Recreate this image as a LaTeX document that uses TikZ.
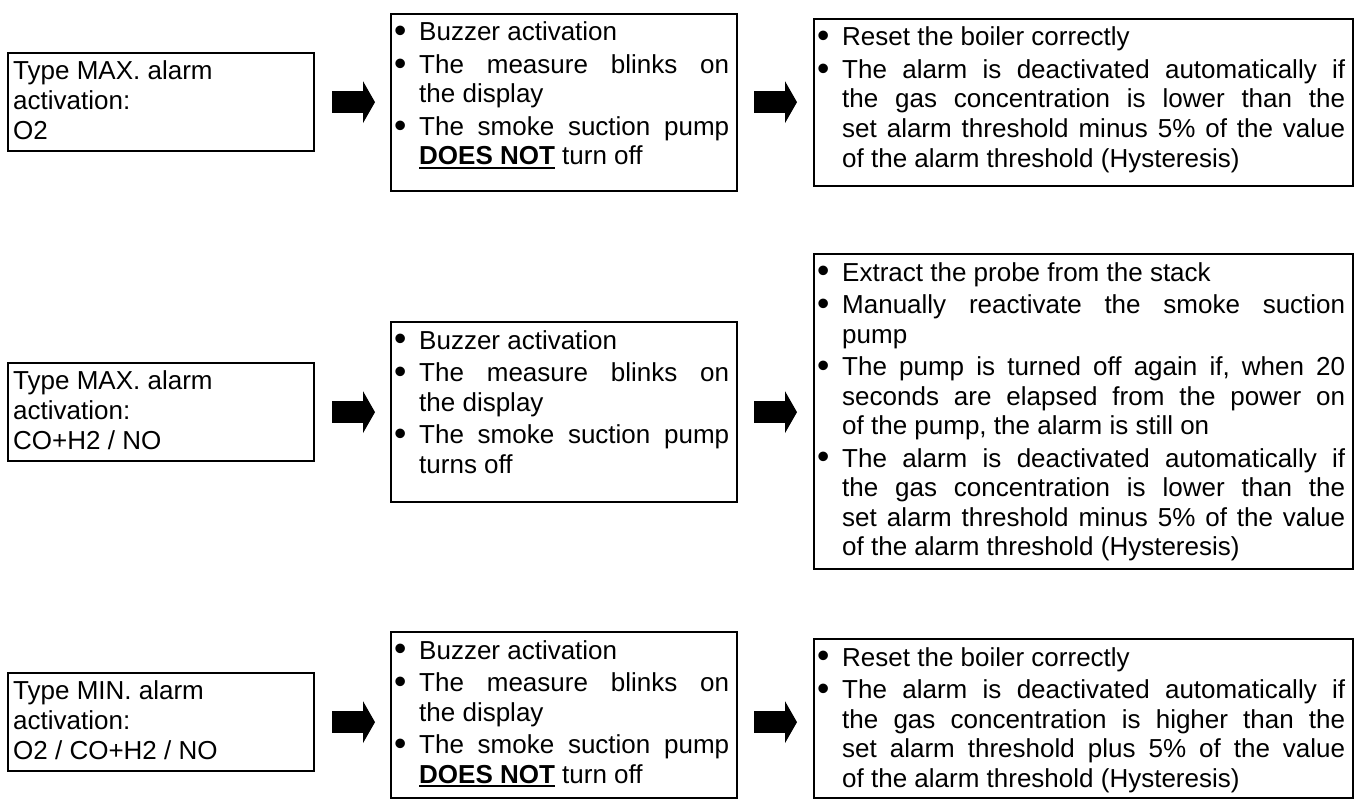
\documentclass[tikz,border=0pt]{standalone}
\usepackage{fontspec}
\setmainfont{Liberation Sans}
\usetikzlibrary{arrows.meta}
\newlength\bind
\setlength\bind{25pt}
\newcommand\bitem[1]{\par\noindent\hangindent=\bind\hangafter=1\makebox[\bind][l]{\raisebox{-1.8pt}{\scalebox{1.35}{\textbullet}}}#1}
\newcommand\ulbold[1]{\setbox0\hbox{\textbf{#1}}\rlap{\rule[-4pt]{\wd0}{2.4pt}}\box0\relax}
\newcommand\btext[2]{\parbox[t]{#1}{\fontsize{26pt}{29.5pt}\selectfont\tolerance=10000\pretolerance=-1\hyphenpenalty=10000\exhyphenpenalty=10000\frenchspacing\parindent=0pt\parskip=3pt #2}}
\newcommand\ltext[1]{\parbox[t]{295pt}{\fontsize{26pt}{30pt}\selectfont\raggedright\frenchspacing #1}}
\begin{document}
\begin{tikzpicture}[x=1pt,y=-1pt,
  box/.style={draw, line width=2.3pt, rectangle, inner sep=0pt, anchor=north west},
  txt/.style={inner sep=0pt, anchor=base west},
  bigarrow/.style={line width=22pt, -{Triangle[length=12pt,width=42pt,line width=0pt]}}]
\useasboundingbox (0,0) rectangle (1354,800);
% ---------- row 1
\node[box, minimum width=306pt, minimum height=98pt] (l1) at (7,52) {};
\node[box, minimum width=346pt, minimum height=177pt] (m1) at (390,13) {};
\node[box, minimum width=539pt, minimum height=167pt] (r1) at (813,18) {};
\node[txt] (l1t) at ([shift={(6pt,-27pt)}]l1.north west) {\ltext{Type MAX. alarm\\activation:\\O2}};
\node[txt] (m1t) at ([shift={(4pt,-28pt)}]m1.north west) {\btext{335pt}{%
\bitem{Buzzer activation}
\bitem{The measure blinks on\linebreak the display}
\bitem{The smoke suction pump\linebreak \ulbold{DOES NOT} turn off}}};
\node[txt] (r1t) at ([shift={(4pt,-28pt)}]r1.north west) {\btext{528pt}{%
\bitem{Reset the boiler correctly}
\bitem{The alarm is deactivated automatically if\linebreak the gas concentration is lower than the\linebreak set alarm threshold minus 5\% of the value\linebreak of the alarm threshold (Hysteresis)}}};
\draw[bigarrow] ([xshift=17pt]l1.east) -- ([xshift=-15pt]l1.east -| m1.west);
\draw[bigarrow] ([xshift=16pt]l1.east -| m1.east) -- ([xshift=-16pt]l1.east -| r1.west);
% ---------- row 2
\node[box, minimum width=306pt, minimum height=98pt] (l2) at (7,362) {};
\node[box, minimum width=346pt, minimum height=180pt] (m2) at (390,321) {};
\node[box, minimum width=539pt, minimum height=315pt] (r2) at (813,253) {};
\node[txt] (l2t) at ([shift={(6pt,-27pt)}]l2.north west) {\ltext{Type MAX. alarm\\activation:\\CO+H2 / NO}};
\node[txt] (m2t) at ([shift={(4pt,-28pt)}]m2.north west) {\btext{335pt}{%
\bitem{Buzzer activation}
\bitem{The measure blinks on\linebreak the display}
\bitem{The smoke suction pump\linebreak turns off}}};
\node[txt] (r2t) at ([shift={(4pt,-28pt)}]r2.north west) {\btext{528pt}{%
\bitem{Extract the probe from the stack}
\bitem{Manually reactivate the smoke suction\linebreak pump}
\bitem{The pump is turned off again if, when 20\linebreak seconds are elapsed from the power on\linebreak of the pump, the alarm is still on}
\bitem{The alarm is deactivated automatically if\linebreak the gas concentration is lower than the\linebreak set alarm threshold minus 5\% of the value\linebreak of the alarm threshold (Hysteresis)}}};
\draw[bigarrow] ([xshift=17pt]l2.east) -- ([xshift=-15pt]l2.east -| m2.west);
\draw[bigarrow] ([xshift=16pt]l2.east -| m2.east) -- ([xshift=-16pt]l2.east -| r2.west);
% ---------- row 3
\node[box, minimum width=306pt, minimum height=98pt] (l3) at (7,672) {};
\node[box, minimum width=346pt, minimum height=166pt] (m3) at (390,631) {};
\node[box, minimum width=539pt, minimum height=159pt] (r3) at (813,638) {};
\node[txt] (l3t) at ([shift={(6pt,-27pt)}]l3.north west) {\ltext{Type MIN. alarm\\activation:\\O2 / CO+H2 / NO}};
\node[txt] (m3t) at ([shift={(4pt,-28pt)}]m3.north west) {\btext{335pt}{%
\bitem{Buzzer activation}
\bitem{The measure blinks on\linebreak the display}
\bitem{The smoke suction pump\linebreak \ulbold{DOES NOT} turn off}}};
\node[txt] (r3t) at ([shift={(4pt,-28pt)}]r3.north west) {\btext{528pt}{%
\bitem{Reset the boiler correctly}
\bitem{The alarm is deactivated automatically if\linebreak the gas concentration is higher than the\linebreak set alarm threshold plus 5\% of the value\linebreak of the alarm threshold (Hysteresis)}}};
\draw[bigarrow] ([xshift=17pt]l3.east) -- ([xshift=-15pt]l3.east -| m3.west);
\draw[bigarrow] ([xshift=16pt]l3.east -| m3.east) -- ([xshift=-16pt]l3.east -| r3.west);
\end{tikzpicture}
\end{document}
